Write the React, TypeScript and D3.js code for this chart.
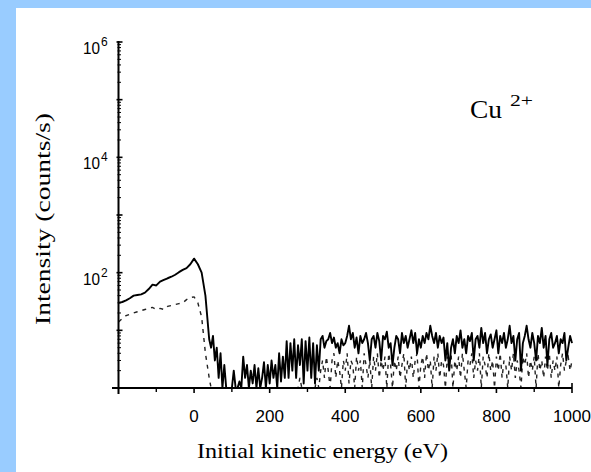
import React from "react";
import * as d3 from "d3";

// low-energy part (10 eV steps)
const smoothEnergies = [
  -200, -190, -180, -170, -160, -150, -140, -130, -120, -110,
  -100, -90, -80, -70, -60, -50, -40, -30, -20, -10,
  0, 10, 20, 30,
];
const smoothSolid = [
  30, 31, 33, 36, 40, 41, 42, 45, 52, 62,
  60, 70, 75, 80, 85, 92, 102, 112, 120, 140,
  175, 140, 100, 40,
];
const smoothDashed = [
  14, 16, 18, 19, 20, 21, 22, 23, 24, 25,
  23, 24, 23, 26, 27, 28, 29, 30, 34, 37,
  38, 30, 17, 4,
];

// noisy part (5 eV steps)
const noiseEnergies = [
  40, 45, 50, 55, 60, 65, 70, 75, 80, 85,
  90, 95, 100, 105, 110, 115, 120, 125, 130, 135,
  140, 145, 150, 155, 160, 165, 170, 175, 180, 185,
  190, 195, 200, 205, 210, 215, 220, 225, 230, 235,
  240, 245, 250, 255, 260, 265, 270, 275, 280, 285,
  290, 295, 300, 305, 310, 315, 320, 325, 330, 335,
  340, 345, 350, 355, 360, 365, 370, 375, 380, 385,
  390, 395, 400, 405, 410, 415, 420, 425, 430, 435,
  440, 445, 450, 455, 460, 465, 470, 475, 480, 485,
  490, 495, 500, 505, 510, 515, 520, 525, 530, 535,
  540, 545, 550, 555, 560, 565, 570, 575, 580, 585,
  590, 595, 600, 605, 610, 615, 620, 625, 630, 635,
  640, 645, 650, 655, 660, 665, 670, 675, 680, 685,
  690, 695, 700, 705, 710, 715, 720, 725, 730, 735,
  740, 745, 750, 755, 760, 765, 770, 775, 780, 785,
  790, 795, 800, 805, 810, 815, 820, 825, 830, 835,
  840, 845, 850, 855, 860, 865, 870, 875, 880, 885,
  890, 895, 900, 905, 910, 915, 920, 925, 930, 935,
  940, 945, 950, 955, 960, 965, 970, 975, 980, 985,
  990, 995, 1000,
];
// counts/s; 1 = baseline (zero counts)
const noiseSolid = [
  7, 5, 8, 3, 5, 1.5, 4, 1, 2.5, 1,
  1, 1, 1, 2, 1, 1, 1.3, 1, 3.5, 1.5,
  2.5, 1, 2, 1.2, 2.5, 1, 2.2, 1, 1.5, 2.8,
  1, 2.5, 1.2, 3, 1.5, 2.5, 1, 4, 1.3, 3.5,
  1.5, 6.5, 1.5, 6, 2, 7, 1.5, 5.5, 2.5, 7,
  1.2, 6.5, 2, 7.5, 1.5, 6, 1.2, 5.5, 2, 7,
  8, 5, 6.5, 7, 9, 6, 7.5, 5, 6, 4,
  7, 5.5, 6, 8, 12, 7, 9, 5, 7.5, 4,
  8, 6, 7, 9, 6, 3, 7, 8, 5, 9,
  6.5, 3, 8, 7, 9.5, 5, 6, 2.5, 5, 8,
  7, 4, 9, 6, 8, 5, 7, 10, 6, 9,
  4, 7, 5, 8, 6, 9, 7, 12, 8, 6,
  9, 5, 8, 6, 7.5, 3, 6, 2, 5, 7,
  4, 8, 6, 10, 5, 7, 4, 8, 6.5, 9,
  3, 7, 8, 5, 11, 6, 9, 4, 7, 8.5,
  5, 7, 10, 4, 8, 6, 9, 5, 7, 12,
  6, 8, 3, 7, 9, 2, 6, 8, 12, 7,
  5, 9, 6, 3, 8, 6, 11, 5, 8, 2.5,
  7, 9, 5, 6, 8, 4, 7, 6, 9, 3,
  5, 8, 6,
];
const noiseDashed = [
  1.5, 1, 1, 1, 1, 1, 1, 1, 1, 1,
  1, 1, 1, 1, 1, 1, 1, 1, 1, 1,
  1, 1, 1, 1, 1, 1, 1, 1, 1, 1,
  1, 1, 1, 1, 1, 1, 1, 1, 1, 1,
  1, 1, 1, 1, 1, 1, 1, 1, 1.5, 1,
  1, 1, 1, 1, 1, 1, 1, 1.5, 1, 2,
  3, 1.5, 3.5, 2, 1, 3, 4, 1.5, 3, 2,
  1, 3, 2, 4, 1.2, 3, 2.5, 1, 3.5, 2,
  3, 1, 4, 2.5, 1.5, 3, 1, 3.5, 2, 4,
  1.5, 3, 2, 3.5, 1, 4, 2.5, 1, 3, 2,
  3.5, 1.5, 2.5, 4, 1, 3, 2, 3.5, 1.5, 3,
  4, 1, 2.5, 3.5, 1.5, 4, 2, 3, 1, 3.5,
  2, 4, 1.5, 3, 2.5, 1, 3.5, 2, 4, 1,
  3, 2, 3.5, 1.5, 4, 2, 1, 3, 2.5, 4,
  1.5, 3, 2, 4, 1, 3.5, 2.5, 1.5, 4, 2,
  3, 1, 3.5, 2, 4, 1.5, 3, 2.5, 1, 3.5,
  2, 4, 1.5, 3, 2, 1, 3.5, 2.5, 4, 1.5,
  3, 2, 3.5, 1, 4, 2, 3, 1.5, 3.5, 2,
  4, 1.5, 3, 2, 3.5, 1, 2.5, 4, 2, 3,
  3.5, 2, 3,
];

const xTickLabels = [0, 200, 400, 600, 800, 1000];
const xMinorTicks = [-100, 100, 300, 500, 700, 900];
const yLabelExponents = [2, 4, 6];

export default function App() {
  const W = 591;
  const H = 472;
  const x = d3.scaleLinear().domain([-200, 1000]).range([118.5, 572]);
  const y = d3.scaleLog().domain([1, 1e6]).range([388, 42]);

  const energies = [...smoothEnergies, ...noiseEnergies];
  const solidValues = [...smoothSolid, ...noiseSolid];
  const dashedValues = [...smoothDashed, ...noiseDashed];

  const line = d3
    .line<number>()
    .x((_, i) => x(energies[i]))
    .y((d) => y(Math.max(1, d)));

  const solidPath = line(solidValues) || "";
  const dashedPath = line(dashedValues) || "";

  const yMinor: number[] = [];
  for (let e = 0; e < 6; e++) {
    for (let m = 2; m <= 9; m++) yMinor.push(m * Math.pow(10, e));
  }
  const yMajor = [1, 10, 100, 1e3, 1e4, 1e5, 1e6];

  const serif = "'Liberation Serif', 'DejaVu Serif', serif";
  const sans = "'Liberation Sans', Arial, sans-serif";
  const x0 = x(-200);

  return (
    <svg width={W} height={H} style={{ position: "absolute", left: 0, top: 0 }}>
      <rect x={0} y={0} width={W} height={H} fill="#99ccff" />
      <rect x={16} y={8} width={W - 16} height={H - 8} fill="#ffffff" />

      {/* data */}
      <path d={dashedPath} fill="none" stroke="#222" strokeWidth={1.4} strokeDasharray="4,5" />
      <path d={solidPath} fill="none" stroke="#000" strokeWidth={1.9} strokeLinejoin="round" />

      {/* y axis */}
      <line x1={x0} x2={x0} y1={y(1e6) - 1} y2={y(1) + 6} stroke="#000" strokeWidth={2} />
      {yMajor.map((v) => (
        <line key={"ym" + v} x1={x0 - 2} x2={x0 + 4} y1={y(v)} y2={y(v)} stroke="#000" strokeWidth={1.6} />
      ))}
      {yMinor.map((v, i) => (
        <line key={"yn" + i} x1={x0 - 1} x2={x0 + 2.5} y1={y(v)} y2={y(v)} stroke="#000" strokeWidth={1} />
      ))}
      {yLabelExponents.map((e) => (
        <text key={"yl" + e} x={83} y={y(Math.pow(10, e)) + 12} fontFamily={sans} fontSize={17} fill="#000">
          <tspan textLength={17} lengthAdjust="spacingAndGlyphs">10</tspan>
          <tspan x={101} dy={-8} fontSize={12}>
            {e}
          </tspan>
        </text>
      ))}

      {/* x axis */}
      <line x1={112} x2={x(1000)} y1={y(1)} y2={y(1)} stroke="#000" strokeWidth={2} />
      {xTickLabels.map((v) => (
        <line key={"xt" + v} x1={x(v)} x2={x(v)} y1={y(1) - (v === 1000 ? 5 : 0)} y2={y(1) + 5} stroke="#000" strokeWidth={1.6} />
      ))}
      {xMinorTicks.map((v) => (
        <line key={"xm" + v} x1={x(v)} x2={x(v)} y1={y(1)} y2={y(1) + 4} stroke="#000" strokeWidth={1.4} />
      ))}
      {xTickLabels.map((v) => (
        <text key={"xl" + v} x={x(v)} y={422} textAnchor="middle" fontFamily={sans} fontSize={17} fill="#000">
          {v}
        </text>
      ))}

      {/* axis titles */}
      <text x={197} y={458} fontFamily={serif} fontSize={21} fill="#000" textLength={251} lengthAdjust="spacingAndGlyphs">
        Initial kinetic energy (eV)
      </text>
      <text
        transform="translate(50,325) rotate(-90)"
        fontFamily={serif}
        fontSize={22}
        fill="#000"
        textLength={212}
        lengthAdjust="spacingAndGlyphs"
      >
        Intensity (counts/s)
      </text>

      {/* annotation */}
      <text x={470} y={118} fontFamily={serif} fontSize={25} fill="#000" textLength={32} lengthAdjust="spacingAndGlyphs">
        Cu
      </text>
      <text x={510} y={106} fontFamily={serif} fontSize={16} fill="#000" textLength={23} lengthAdjust="spacingAndGlyphs">
        2+
      </text>
    </svg>
  );
}
